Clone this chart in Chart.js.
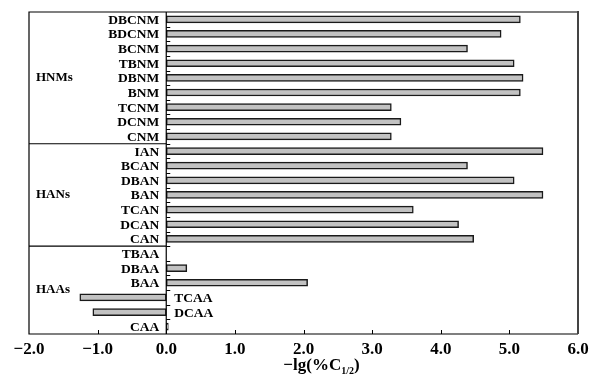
<!DOCTYPE html>
<html>
<head>
<meta charset="utf-8">
<script src="https://cdn.jsdelivr.net/npm/chart.js@4/dist/chart.umd.min.js"></script>
<style>
  html, body { margin: 0; padding: 0; background: #fff; }
  #wrap { width: 594px; height: 380px; }
</style>
</head>
<body>
<div id="wrap"><canvas id="myChart" width="594" height="380"></canvas></div>
<script>
// compounds, top to bottom
const categories = ['DBCNM', 'BDCNM', 'BCNM', 'TBNM', 'DBNM', 'BNM', 'TCNM', 'DCNM', 'CNM',
                    'IAN', 'BCAN', 'DBAN', 'BAN', 'TCAN', 'DCAN', 'CAN',
                    'TBAA', 'DBAA', 'BAA', 'TCAA', 'DCAA', 'CAA'];
// -lg(%C1/2) values
const values = [5.16, 4.88, 4.39, 5.07, 5.20, 5.16, 3.28, 3.42, 3.28,
                5.49, 4.39, 5.07, 5.49, 3.60, 4.26, 4.48,
                null, 0.30, 2.06, -1.26, -1.07, 0.03];
// groups: name, first and last category
const groups = [
    { name: 'HNMs', from: 'DBCNM', to: 'CNM' },
    { name: 'HANs', from: 'IAN', to: 'CAN' },
    { name: 'HAAs', from: 'TBAA', to: 'CAA' }
];
const xTicks = [-2, -1, 0, 1, 2, 3, 4, 5, 6];

const serif = '"Liberation Serif", "Times New Roman", serif';

// frame, zero line, small ticks, group labels, category labels and axis title
const decorPlugin = {
    id: 'decor',
    afterDatasetsDraw(chart) {
        const ctx = chart.ctx;
        const area = chart.chartArea;
        const x = chart.scales.x;
        const y = chart.scales.y;
        const x0 = x.getPixelForValue(0);
        const step = (area.bottom - area.top) / categories.length;

        ctx.save();
        ctx.strokeStyle = '#000';
        ctx.lineWidth = 1.2;

        // frame
        ctx.beginPath();
        ctx.moveTo(area.right, area.top);
        ctx.lineTo(area.left, area.top);
        ctx.lineTo(area.left, area.bottom);
        ctx.lineTo(area.right, area.bottom);
        ctx.stroke();
        ctx.strokeStyle = '#444';
        ctx.lineWidth = 2;
        ctx.beginPath();
        ctx.moveTo(area.right, area.top - 1);
        ctx.lineTo(area.right, area.bottom);
        ctx.stroke();

        // zero line
        ctx.strokeStyle = '#000';
        ctx.lineWidth = 1.2;
        ctx.beginPath();
        ctx.moveTo(x0, area.top);
        ctx.lineTo(x0, area.bottom);
        ctx.stroke();

        // ticks between categories on the zero line
        ctx.lineWidth = 1;
        ctx.beginPath();
        for (let i = 1; i < categories.length; i++) {
            const yy = Math.round(y.getPixelForValue(i) - step / 2) + 0.5;
            ctx.moveTo(x0, yy);
            ctx.lineTo(x0 + 4, yy);
        }
        ctx.stroke();

        // inner ticks on the x axis
        ctx.beginPath();
        xTicks.slice(1, -1).forEach(v => {
            const xx = Math.round(x.getPixelForValue(v)) + 0.5;
            ctx.moveTo(xx, area.bottom);
            ctx.lineTo(xx, area.bottom - 4);
        });
        ctx.stroke();

        // group separators and names
        ctx.lineWidth = 1.2;
        ctx.fillStyle = '#000';
        ctx.font = 'bold 13px ' + serif;
        ctx.textAlign = 'left';
        ctx.textBaseline = 'middle';
        groups.forEach((g, gi) => {
            const a = categories.indexOf(g.from);
            const b = categories.indexOf(g.to);
            const top = y.getPixelForValue(a) - step / 2;
            const bottom = y.getPixelForValue(b) + step / 2;
            if (gi > 0) {
                ctx.beginPath();
                ctx.moveTo(area.left, top);
                ctx.lineTo(x0, top);
                ctx.stroke();
            }
            ctx.fillText(g.name, area.left + 7, (top + bottom) / 2);
        });

        // category labels beside the zero line
        ctx.font = 'bold 13.5px ' + serif;
        categories.forEach((c, i) => {
            const yy = y.getPixelForValue(i) + 1;
            const v = values[i];
            if (v !== null && v < 0) {
                ctx.textAlign = 'left';
                ctx.fillText(c, x0 + 8, yy);
            } else {
                ctx.textAlign = 'right';
                ctx.fillText(c, x0 - 7, yy);
            }
        });

        // axis title -lg(%C1/2)
        const main1 = '\u2212lg(%C';
        const sub = '1/2';
        const main2 = ')';
        ctx.font = 'bold 17px ' + serif;
        const w1 = ctx.measureText(main1).width;
        const w3 = ctx.measureText(main2).width;
        ctx.font = 'bold 10px ' + serif;
        const w2 = ctx.measureText(sub).width;
        const cx = (x.left + x.right) / 2 + 18;
        let tx = cx - (w1 + w2 + w3) / 2;
        const base = 370;
        ctx.textAlign = 'left';
        ctx.textBaseline = 'alphabetic';
        ctx.font = 'bold 17px ' + serif;
        ctx.fillText(main1, tx, base);
        tx += w1;
        ctx.font = 'bold 10px ' + serif;
        ctx.fillText(sub, tx, base + 4);
        tx += w2;
        ctx.font = 'bold 17px ' + serif;
        ctx.fillText(main2, tx, base);
        ctx.restore();
    }
};

function createChart() {
    const ctx = document.getElementById('myChart').getContext('2d');
    new Chart(ctx, {
        type: 'bar',
        data: {
            labels: categories,
            datasets: [{
                data: values,
                backgroundColor: '#c2c2c2',
                borderColor: '#1a1a1a',
                borderWidth: 1.5,
                borderSkipped: false,
                barThickness: 7
            }]
        },
        options: {
            indexAxis: 'y',
            responsive: false,
            animation: false,
            layout: { padding: { left: 29, right: 16, top: 12, bottom: 0 } },
            plugins: {
                legend: { display: false },
                tooltip: { enabled: false }
            },
            scales: {
                x: {
                    type: 'linear',
                    min: -2,
                    max: 6,
                    afterBuildTicks: scale => {
                        scale.ticks = xTicks.map(v => ({ value: v }));
                    },
                    afterFit: scale => { scale.height = 46; },
                    grid: { display: false },
                    border: { display: false },
                    ticks: {
                        padding: -3,
                        color: '#000',
                        font: { family: serif, size: 17, weight: 'bold' },
                        callback: v => (v < 0 ? '\u2212' : '') + Math.abs(v).toFixed(1)
                    }
                },
                y: {
                    type: 'category',
                    display: false
                }
            }
        },
        plugins: [decorPlugin]
    });
}

createChart();
</script>
</body>
</html>
